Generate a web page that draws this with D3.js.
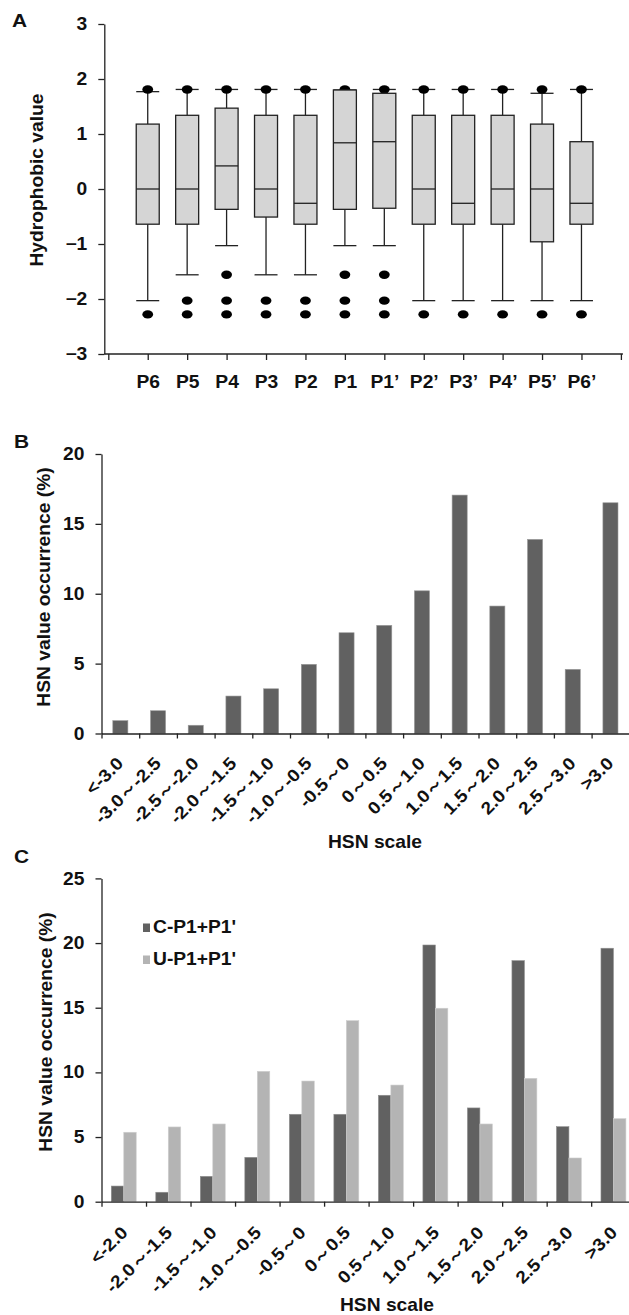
<!DOCTYPE html>
<html>
<head>
<meta charset="utf-8">
<script src="https://cdn.jsdelivr.net/npm/d3@7/dist/d3.min.js"></script>
<style>
body { margin: 0; background: #fff; }
text { font-family: Arial, "Liberation Sans", sans-serif; font-weight: bold; fill: #111; }
</style>
</head>
<body>
<div id="chart"></div>
<script>
// ---- data ----
// panel A: hydrophobic value per position
var posLabels = ["P6", "P5", "P4", "P3", "P2", "P1", "P1’", "P2’", "P3’", "P4’", "P5’", "P6’"]
var boxLow  = [-2.03, -1.56, -1.03, -1.56, -1.56, -1.03, -1.03, -2.03, -2.03, -2.03, -2.03, -2.03]
var boxQ1   = [-0.64, -0.64, -0.37, -0.51, -0.64, -0.37, -0.35, -0.64, -0.64, -0.64, -0.96, -0.64]
var boxMed  = [0, 0, 0.42, 0, -0.26, 0.84, 0.86, 0, -0.26, 0, 0, -0.26]
var boxQ3   = [1.18, 1.34, 1.47, 1.34, 1.34, 1.80, 1.74, 1.34, 1.34, 1.34, 1.18, 0.86]
var boxHigh = [1.77, 1.81, 1.81, 1.81, 1.81, 1.80, 1.81, 1.81, 1.81, 1.81, 1.74, 1.81]
var boxOut  = [
    [1.81, -2.28],
    [1.81, -2.03, -2.28],
    [1.81, -1.56, -2.03, -2.28],
    [1.81, -2.03, -2.28],
    [1.81, -2.03, -2.28],
    [1.81, -1.56, -2.03, -2.28],
    [1.81, -1.56, -2.03, -2.28],
    [1.81, -2.28],
    [1.81, -2.28],
    [1.81, -2.28],
    [1.81, -2.28],
    [1.81, -2.28]
]
var ticksA = [-3, -2, -1, 0, 1, 2, 3]

// panel B: HSN value occurrence
var hsnLabelsB = ["<-3.0", "-3.0～-2.5", "-2.5～-2.0", "-2.0～-1.5", "-1.5～-1.0", "-1.0～-0.5", "-0.5～0",
                  "0～0.5", "0.5～1.0", "1.0～1.5", "1.5～2.0", "2.0～2.5", "2.5～3.0", ">3.0"]
var hsnValuesB = [0.92, 1.63, 0.59, 2.68, 3.2, 4.95, 7.21, 7.74, 10.21, 17.06, 9.12, 13.89, 4.59, 16.51]
var ticksB = [0, 5, 10, 15, 20]

// panel C: cleaved vs uncleaved P1+P1'
var hsnLabelsC = ["<-2.0", "-2.0～-1.5", "-1.5～-1.0", "-1.0～-0.5", "-0.5～0", "0～0.5",
                  "0.5～1.0", "1.0～1.5", "1.5～2.0", "2.0～2.5", "2.5～3.0", ">3.0"]
var cleavedVals   = [1.21, 0.73, 1.96, 3.43, 6.76, 6.76, 8.23, 19.85, 7.25, 18.64, 5.8, 19.6]
var uncleavedVals = [5.37, 5.78, 6.01, 10.08, 9.33, 14.0, 9.02, 14.96, 6.01, 9.54, 3.38, 6.42]
var seriesC = ["C-P1+P1'", "U-P1+P1'"]
var ticksC = [0, 5, 10, 15, 20, 25]

// ---- layout ----
let width = 629
let height = 1315
let sx = 1.1    // lettering in the figure runs a bit wide
let fs = 17.5
let ink = "#222"
let darkGrey = "#616161"
let lightGrey = "#b4b4b4"

var svg = d3.select("#chart")
    .append("svg")
    .attr("width", width)
    .attr("height", height)

function styleAxis(g){
    g.select(".domain").attr("stroke", ink).attr("stroke-width", 1.3)
    g.selectAll(".tick line").attr("stroke", ink).attr("stroke-width", 1.3)
    g.selectAll(".tick text")
        .attr("font-size", fs)
        .attr("fill", "#111")
}

function leftAxis(g, scale, ticks, xPos){
    g.attr("transform", `translate(${xPos},0)`)
        .call(d3.axisLeft(scale)
            .tickValues(ticks)
            .tickFormat(d3.format("d"))
            .tickSize(6)
            .tickSizeOuter(0)
            .tickPadding(11))
        .call(styleAxis)
    g.selectAll(".tick text")
        .attr("x", -17 / sx)
        .attr("transform", `scale(${sx},1)`)
}

function yTitle(x, y, label){
    svg.append("text")
        .attr("transform", `translate(${x},${y}) rotate(-90) scale(${sx},1)`)
        .attr("text-anchor", "middle")
        .attr("font-size", fs)
        .text(label)
}

function plainText(x, y, label, size, anchor){
    svg.append("text")
        .attr("transform", `translate(${x},${y}) scale(${sx},1)`)
        .attr("text-anchor", anchor || "start")
        .attr("font-size", size)
        .text(label)
}

// ================= Panel A =================
let axA = 104.3
var yA = d3.scaleLinear().domain([-3, 3]).range([354, 24])
var xA = d3.scaleLinear().domain([0, 13]).range([108.3, 620.9])
let boxW = 23

plainText(12, 27, "A", 19)
yTitle(43, 180, "Hydrophobic value")

svg.append("g").call(leftAxis, yA, ticksA, axA)

var xAxisA = svg.append("g")
    .attr("transform", `translate(0,${yA(-3)})`)
    .call(d3.axisBottom(xA)
        .tickValues(d3.range(14))
        .tickFormat(function(i){ return posLabels[i - 1] || "" })
        .tickSize(6)
        .tickSizeOuter(0)
        .tickPadding(16))
    .call(styleAxis)
xAxisA.select(".domain").attr("d", `M${axA},0H${xA(13) + 2}`)
xAxisA.selectAll(".tick text").attr("transform", `scale(${sx},1)`)

var boxes = posLabels.map(function(p, i){
    return {i: i + 1, low: boxLow[i], q1: boxQ1[i], med: boxMed[i], q3: boxQ3[i], high: boxHigh[i], out: boxOut[i]}
})

var gBox = svg.append("g")

// whiskers and caps
boxes.forEach(function(d){
    var cx = xA(d.i)
    var g = gBox.append("g").attr("stroke", ink).attr("stroke-width", 1.3)
    g.append("line").attr("x1", cx).attr("x2", cx).attr("y1", yA(d.q3)).attr("y2", yA(d.high))
    g.append("line").attr("x1", cx).attr("x2", cx).attr("y1", yA(d.q1)).attr("y2", yA(d.low))
    g.append("line").attr("x1", cx - boxW / 2).attr("x2", cx + boxW / 2).attr("y1", yA(d.high)).attr("y2", yA(d.high))
    g.append("line").attr("x1", cx - boxW / 2).attr("x2", cx + boxW / 2).attr("y1", yA(d.low)).attr("y2", yA(d.low))
})

// outliers
var outPts = []
boxes.forEach(function(d){
    d.out.forEach(function(v){ outPts.push({i: d.i, v: v}) })
})
gBox.selectAll("ellipse")
    .data(outPts)
    .enter()
    .append("ellipse")
    .attr("cx", function(d){ return xA(d.i) })
    .attr("cy", function(d){ return yA(d.v) })
    .attr("rx", 5.4)
    .attr("ry", 4.2)
    .attr("fill", "#000")

// boxes
gBox.selectAll("rect.box")
    .data(boxes)
    .enter()
    .append("rect")
    .attr("class", "box")
    .attr("x", function(d){ return xA(d.i) - boxW / 2 })
    .attr("y", function(d){ return yA(d.q3) })
    .attr("width", boxW)
    .attr("height", function(d){ return yA(d.q1) - yA(d.q3) })
    .attr("fill", "#d5d5d5")
    .attr("stroke", ink)
    .attr("stroke-width", 1.3)

gBox.selectAll("line.med")
    .data(boxes)
    .enter()
    .append("line")
    .attr("class", "med")
    .attr("x1", function(d){ return xA(d.i) - boxW / 2 })
    .attr("x2", function(d){ return xA(d.i) + boxW / 2 })
    .attr("y1", function(d){ return yA(d.med) })
    .attr("y2", function(d){ return yA(d.med) })
    .attr("stroke", ink)
    .attr("stroke-width", 1.3)

// ================= Panel B =================
let axB = 101.5
var yB = d3.scaleLinear().domain([0, 20]).range([733.5, 454])
var xB = d3.scaleBand().domain(hsnLabelsB).range([axB, 629.3])
var edgeB = d3.scaleLinear().domain([0, hsnLabelsB.length]).range(xB.range())
let bwB = xB.bandwidth()

plainText(14, 448, "B", 19)
yTitle(50, 587, "HSN value occurrence (%)")
plainText(375, 848, "HSN scale", fs, "middle")

svg.append("g")
    .selectAll("rect")
    .data(hsnValuesB)
    .enter()
    .append("rect")
    .attr("x", function(d, i){ return xB(hsnLabelsB[i]) + bwB * 0.3 })
    .attr("y", function(d){ return yB(d) })
    .attr("width", bwB * 0.4)
    .attr("height", function(d){ return yB(0) - yB(d) })
    .attr("fill", darkGrey)
    .attr("stroke", "#9a9a9a")
    .attr("stroke-width", 0.6)

svg.append("g").call(leftAxis, yB, ticksB, axB)

svg.append("g")
    .attr("transform", `translate(0,${yB(0)})`)
    .call(d3.axisBottom(edgeB)
        .tickValues(d3.range(hsnLabelsB.length + 1))
        .tickFormat("")
        .tickSize(5)
        .tickSizeOuter(0))
    .call(styleAxis)

svg.append("g")
    .selectAll("text")
    .data(hsnLabelsB)
    .enter()
    .append("text")
    .attr("text-anchor", "end")
    .attr("font-size", fs)
    .attr("transform", function(d){
        return `translate(${xB(d) + bwB / 2 + 4},${yB(0) + 31}) rotate(-45) scale(${sx},1)`
    })
    .text(function(d){ return d })

// ================= Panel C =================
let axC = 101.5
var yC = d3.scaleLinear().domain([0, 25]).range([1201.7, 878.4])
var xC = d3.scaleBand().domain(hsnLabelsC).range([axC, 635.7])
var edgeC = d3.scaleLinear().domain([0, hsnLabelsC.length]).range(xC.range())
let bwC = xC.bandwidth()
let barC = bwC * 0.28

plainText(14, 863, "C", 19)
yTitle(52, 1032, "HSN value occurrence (%)")
plainText(387, 1311, "HSN scale", fs, "middle")

var pairs = hsnLabelsC.map(function(c, i){
    return [{c: c, k: 0, v: cleavedVals[i]}, {c: c, k: 1, v: uncleavedVals[i]}]
})
var colorC = d3.scaleOrdinal().domain([0, 1]).range([darkGrey, lightGrey])

svg.append("g")
    .selectAll("rect")
    .data(d3.merge(pairs))
    .enter()
    .append("rect")
    .attr("x", function(d){ return xC(d.c) + bwC / 2 - barC + d.k * barC })
    .attr("y", function(d){ return yC(d.v) })
    .attr("width", barC)
    .attr("height", function(d){ return yC(0) - yC(d.v) })
    .attr("fill", function(d){ return colorC(d.k) })
    .attr("stroke", function(d){ return d.k ? "#cfcfcf" : "#8f8f8f" })
    .attr("stroke-width", 0.6)

svg.append("g").call(leftAxis, yC, ticksC, axC)

svg.append("g")
    .attr("transform", `translate(0,${yC(0)})`)
    .call(d3.axisBottom(edgeC)
        .tickValues(d3.range(hsnLabelsC.length + 1))
        .tickFormat("")
        .tickSize(5)
        .tickSizeOuter(0))
    .call(styleAxis)

svg.append("g")
    .selectAll("text")
    .data(hsnLabelsC)
    .enter()
    .append("text")
    .attr("text-anchor", "end")
    .attr("font-size", fs)
    .attr("transform", function(d){
        return `translate(${xC(d) + bwC / 2 + 5},${yC(0) + 32}) rotate(-45) scale(${sx},1)`
    })
    .text(function(d){ return d })

// legend
var legend = svg.append("g")
seriesC.forEach(function(name, k){
    let ly = 933 + k * 32
    legend.append("rect")
        .attr("x", 143)
        .attr("y", ly - 9.5)
        .attr("width", 7)
        .attr("height", 8.5)
        .attr("fill", colorC(k))
    legend.append("text")
        .attr("transform", `translate(153,${ly}) scale(${sx},1)`)
        .attr("font-size", fs)
        .text(name)
})
</script>
</body>
</html>
